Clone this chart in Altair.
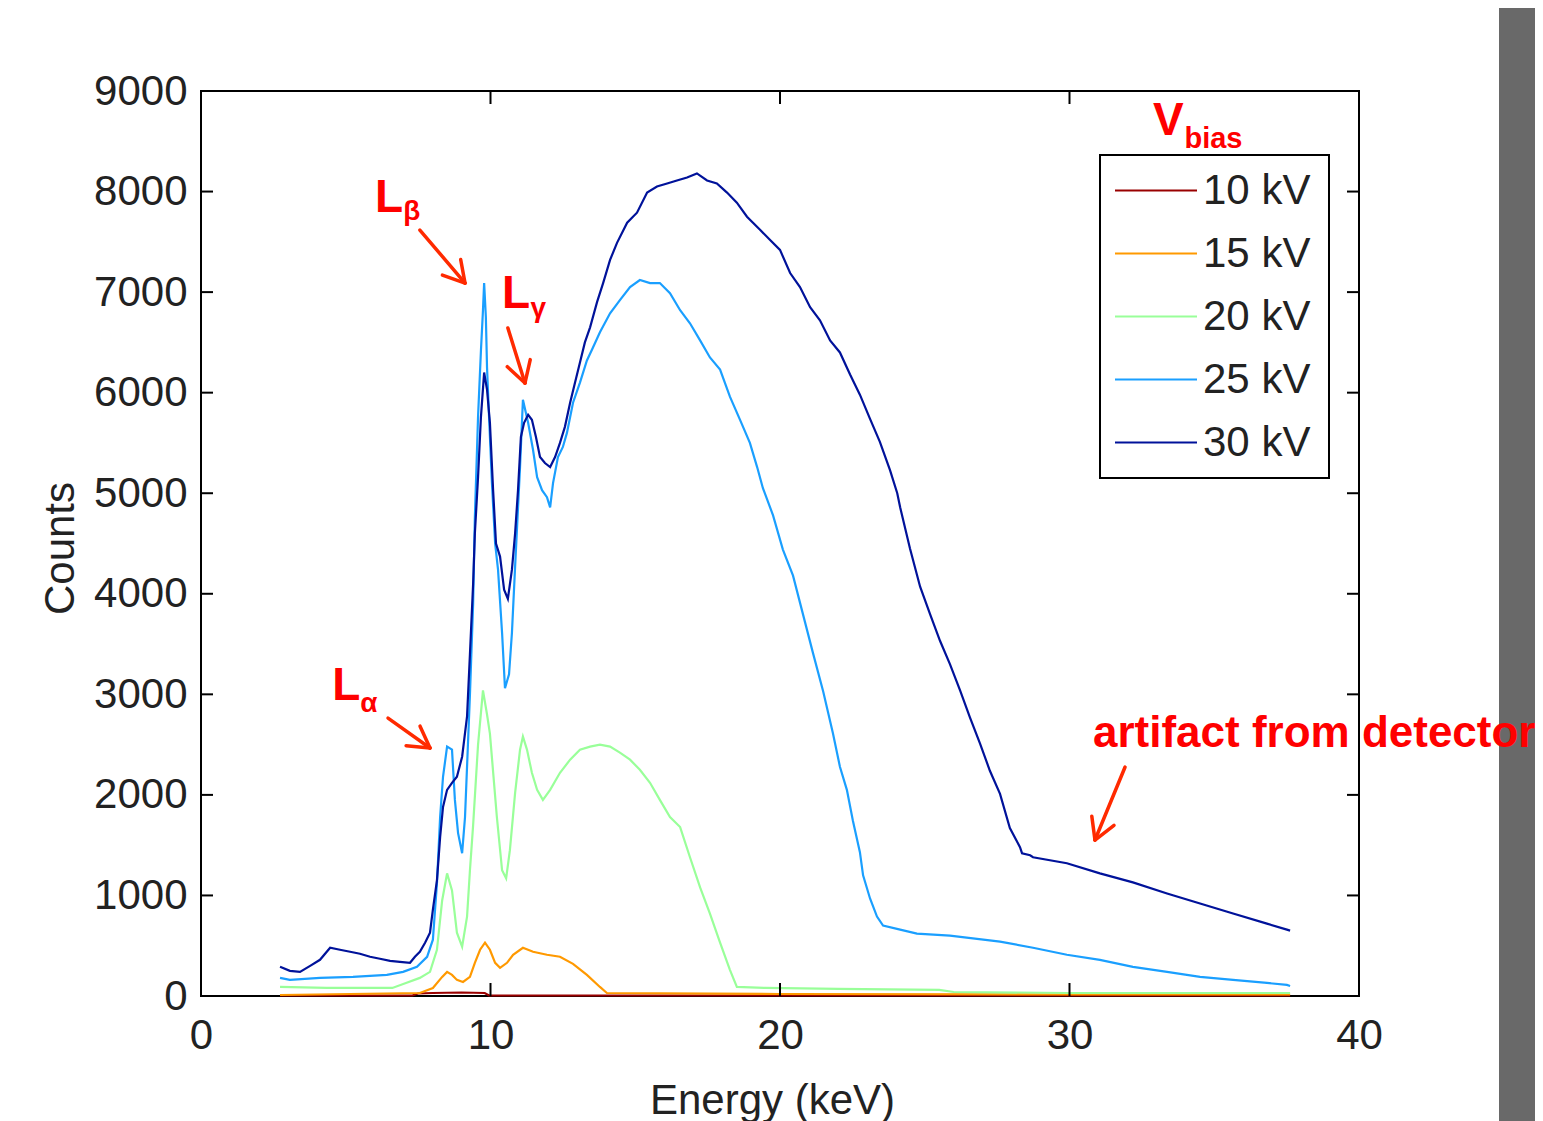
import math
import altair as alt
import pandas as pd

# ---------------- data ----------------
series_labels = ["10 kV", "15 kV", "20 kV", "25 kV", "30 kV"]
series_colors = ["#990000", "#ff9900", "#99ff99", "#1a9fff", "#00129a"]

e10 = [2.73, 7.30, 7.50, 8.00, 9.00, 9.80, 9.95, 37.62]
c10 = [5, 5, 25, 30, 35, 30, 5, 5]

e15 = [2.73, 7.56, 8.01, 8.33, 8.50, 8.67, 8.84, 9.05, 9.29, 9.46,
       9.64, 9.81, 9.98, 10.16, 10.33, 10.57, 10.78, 11.12, 11.47, 11.95,
       12.40, 12.85, 13.33, 13.78, 14.02, 20.00, 30.00, 37.62]
c15 = [10, 30, 80, 190, 240, 210, 160, 140, 190, 330,
       460, 530, 460, 330, 280, 330, 410, 480, 440, 410,
       390, 320, 210, 90, 30, 20, 15, 15]

e20 = [2.73, 4.34, 6.61, 7.08, 7.56, 7.91, 8.15, 8.33, 8.50, 8.67,
       8.84, 9.02, 9.19, 9.29, 9.40, 9.57, 9.74, 9.88, 9.98, 10.22,
       10.40, 10.54, 10.67, 10.85, 11.02, 11.12, 11.26, 11.43, 11.61, 11.81,
       12.06, 12.40, 12.75, 13.09, 13.44, 13.78, 14.13, 14.47, 14.82, 15.16,
       15.51, 15.85, 16.20, 16.55, 16.89, 17.24, 17.58, 17.93, 18.27, 18.51,
       19.50, 22.00, 25.50, 26.00, 30.00, 37.62]
c20 = [90, 80, 80, 130, 180, 240, 460, 950, 1220, 1050,
       630, 490, 790, 1250, 1700, 2500, 3040, 2800, 2610, 1780,
       1250, 1170, 1450, 2020, 2450, 2580, 2450, 2220, 2050, 1950,
       2050, 2220, 2350, 2450, 2480, 2500, 2480, 2420, 2350, 2250,
       2120, 1950, 1780, 1680, 1380, 1080, 820, 530, 260, 90,
       80, 70, 60, 40, 30, 30]

e25 = [2.73, 3.07, 4.11, 5.25, 6.42, 6.98, 7.46, 7.81, 8.01, 8.15,
       8.26, 8.36, 8.50, 8.67, 8.77, 8.88, 9.02, 9.12, 9.29, 9.40,
       9.46, 9.57, 9.67, 9.74, 9.78, 9.84, 9.88, 9.95, 10.05, 10.16,
       10.26, 10.40, 10.50, 10.64, 10.74, 10.85, 11.02, 11.12, 11.30, 11.47,
       11.61, 11.78, 11.95, 12.06, 12.16, 12.33, 12.50, 12.64, 12.85, 13.09,
       13.33, 13.54, 13.78, 14.13, 14.47, 14.82, 15.16, 15.51, 15.85, 16.20,
       16.55, 16.89, 17.24, 17.58, 17.93, 18.27, 18.62, 18.96, 19.21, 19.41,
       19.76, 20.10, 20.45, 20.79, 21.14, 21.49, 21.83, 22.07, 22.31, 22.52,
       22.76, 22.87, 23.11, 23.35, 23.56, 24.15, 24.73, 25.87, 27.60, 28.74,
       29.91, 31.05, 32.19, 33.37, 34.51, 35.65, 36.82, 37.51, 37.62]
c25 = [180, 160, 180, 190, 210, 240, 290, 390, 560, 1120,
       1780, 2180, 2480, 2450, 1950, 1620, 1420, 1780, 3000, 3900,
       4760, 5760, 6420, 6820, 7090, 6750, 6250, 5760, 5100, 4500,
       4240, 3610, 3060, 3200, 3610, 4270, 5260, 5930, 5700, 5430,
       5160, 5030, 4960, 4860, 5100, 5360, 5460, 5600, 5900, 6100,
       6320, 6450, 6600, 6790, 6920, 7050, 7120, 7090, 7090, 6990,
       6820, 6690, 6520, 6350, 6230, 5960, 5730, 5500, 5260, 5050,
       4780, 4440, 4180, 3800, 3410, 3030, 2610, 2280, 2050, 1740,
       1430, 1200, 970, 790, 700, 660, 620, 600, 540, 480,
       410, 360, 290, 240, 190, 160, 130, 110, 100]

e30 = [2.73, 3.07, 3.42, 3.77, 4.11, 4.46, 4.80, 5.15, 5.49, 5.84,
       6.18, 6.53, 6.87, 7.22, 7.39, 7.56, 7.74, 7.91, 8.01, 8.15,
       8.26, 8.36, 8.50, 8.67, 8.84, 9.02, 9.19, 9.29, 9.40, 9.46,
       9.57, 9.67, 9.78, 9.88, 9.98, 10.09, 10.19, 10.33, 10.47, 10.60,
       10.74, 10.85, 10.95, 11.05, 11.16, 11.30, 11.43, 11.57, 11.71, 11.88,
       12.06, 12.23, 12.40, 12.57, 12.75, 12.92, 13.09, 13.26, 13.44, 13.68,
       13.89, 14.13, 14.37, 14.72, 15.06, 15.41, 15.75, 16.10, 16.44, 16.79,
       17.13, 17.48, 17.82, 18.17, 18.51, 18.86, 19.31, 19.65, 20.00, 20.35,
       20.69, 21.04, 21.38, 21.73, 22.07, 22.42, 22.76, 23.11, 23.45, 23.80,
       24.05, 24.15, 24.49, 24.84, 25.18, 25.53, 25.87, 26.22, 26.56, 26.91,
       27.25, 27.60, 27.94, 28.29, 28.36, 28.64, 28.74, 29.91, 31.05, 32.19,
       33.37, 34.51, 35.65, 36.82, 37.51, 37.62]
c30 = [290, 250, 240, 300, 360, 480, 460, 440, 420, 390,
       370, 350, 340, 330, 390, 440, 530, 630, 860, 1150,
       1580, 1880, 2050, 2120, 2180, 2380, 2780, 3400, 4100, 4600,
       5160, 5760, 6200, 6030, 5700, 5030, 4500, 4370, 4040, 3950,
       4240, 4600, 5030, 5560, 5700, 5780, 5730, 5560, 5360, 5300,
       5260, 5360, 5500, 5660, 5900, 6100, 6300, 6500, 6650, 6900,
       7090, 7320, 7490, 7690, 7790, 7990, 8050, 8080, 8110, 8140,
       8180, 8110, 8080, 7990, 7890, 7750, 7620, 7520, 7420, 7190,
       7050, 6850, 6720, 6520, 6400, 6180, 5980, 5740, 5510, 5230,
       5000, 4860, 4450, 4070, 3800, 3530, 3300, 3040, 2770, 2510,
       2240, 2010, 1670, 1480, 1420, 1400, 1380, 1320, 1220, 1130,
       1020, 920, 820, 720, 660, 650]

x_ticks = [0, 10, 20, 30, 40]
y_ticks = [0, 1000, 2000, 3000, 4000, 5000, 6000, 7000, 8000, 9000]

# annotations (data coordinates)
big_text = ["L", "L", "L", "V"]
big_e = [6.01, 10.40, 4.53, 32.88]
big_c = [7796, 6841, 2943, 8562]
sub_text = ["β", "γ", "α"]
sub_e = [6.99, 11.38, 5.50]
sub_c = [7717, 6752, 2824]
bias_text = ["bias"]
bias_e = [33.97]
bias_c = [8433]
note_text = ["artifact from detector"]
note_e = [30.81]
note_c = [2476]
arrow_tail_e = [7.56, 10.60, 6.46, 31.92]
arrow_tail_c = [7617, 6643, 2764, 2277]
arrow_head_e = [9.12, 11.19, 7.91, 30.88]
arrow_head_c = [7090, 6096, 2466, 1551]

# ---------------- build tables ----------------
rows = []
for lab, es, cs in zip(series_labels, [e10, e15, e20, e25, e30], [c10, c15, c20, c25, c30]):
    for e, c in zip(es, cs):
        rows.append({"series": lab, "E": e, "C": c})
df = pd.DataFrame(rows)

W, H = 1158, 905
SX, SY = W / 40.0, H / 9000.0

seg = []
for te, tc, he, hc in zip(arrow_tail_e, arrow_tail_c, arrow_head_e, arrow_head_c):
    tx, ty = te * SX, -tc * SY
    hx, hy = he * SX, -hc * SY
    d = math.atan2(hy - ty, hx - tx)
    seg.append({"E": te, "C": tc, "E2": he, "C2": hc})
    for s in (1, -1):
        a = d + math.pi - s * math.radians(30)
        bx, by = hx + 24 * math.cos(a), hy + 24 * math.sin(a)
        seg.append({"E": he, "C": hc, "E2": bx / SX, "C2": -by / SY})
arrows_df = pd.DataFrame(seg)

FONT = "Liberation Sans"

x_axis = alt.Axis(values=x_ticks, title="Energy (keV)", labelFlush=False, format="d",
                  labelPadding=19, titleX=571, titleY=117, titleBaseline="alphabetic",
                  titleAlign="center")
y_axis = alt.Axis(values=y_ticks, title="Counts", labelFlush=False, format="d",
                  labelPadding=14, titleX=-128, titleY=457, titleAngle=270,
                  titleBaseline="alphabetic", titleAlign="center")
x_enc = alt.X("E:Q", scale=alt.Scale(domain=[0, 40], nice=False), axis=x_axis)
y_enc = alt.Y("C:Q", scale=alt.Scale(domain=[0, 9000], nice=False), axis=y_axis)

frame = alt.Chart(pd.DataFrame({"k": [0]})).mark_rect(color="#696969").encode(
    x=alt.value(1298), x2=alt.value(1340), y=alt.value(-90), y2=alt.value(1040)
)

lines = alt.Chart(df).mark_line(strokeWidth=2.2).encode(
    x=x_enc, y=y_enc,
    color=alt.Color(
        "series:N",
        sort=series_labels,
        scale=alt.Scale(domain=series_labels, range=series_colors),
        legend=alt.Legend(
            orient="none", legendX=899, legendY=64,
            title=".", titleColor="white", titleOrient="right",
            titleFontSize=8, titlePadding=12,
            symbolType="stroke", symbolSize=6724, symbolStrokeWidth=2,
            clipHeight=63, rowPadding=0, padding=4, symbolOffset=10,
            labelFontSize=42, labelFont=FONT, labelColor="#222222",
            labelOffset=5, labelLimit=500,
            strokeColor="black", fillColor="white",
        ),
    ),
)

xt = pd.DataFrame({"E": x_ticks})
yt = pd.DataFrame({"C": y_ticks})
tick_style = dict(color="black", strokeWidth=2)
xt_bottom = alt.Chart(xt).mark_rule(**tick_style).encode(x=x_enc, y=alt.value(H), y2=alt.value(H - 13))
xt_top = alt.Chart(xt).mark_rule(**tick_style).encode(x=x_enc, y=alt.value(0), y2=alt.value(13))
yt_left = alt.Chart(yt).mark_rule(**tick_style).encode(y=y_enc, x=alt.value(0), x2=alt.value(12))
yt_right = alt.Chart(yt).mark_rule(**tick_style).encode(y=y_enc, x=alt.value(W), x2=alt.value(W - 12))

def text_layer(texts, es, cs, size):
    d = pd.DataFrame({"E": es, "C": cs, "t": texts})
    return alt.Chart(d).mark_text(
        align="left", baseline="alphabetic", font=FONT, fontWeight="bold",
        fontSize=size, color="#ff0000"
    ).encode(x=x_enc, y=y_enc, text="t:N")

big = text_layer(big_text, big_e, big_c, 46)
sub = text_layer(sub_text, sub_e, sub_c, 28)
bias = text_layer(bias_text, bias_e, bias_c, 29)
note = text_layer(note_text, note_e, note_c, 44)

arrows = alt.Chart(arrows_df).mark_rule(color="#ff2a00", strokeWidth=3.5, strokeCap="round").encode(
    x=x_enc, y=y_enc, x2="E2:Q", y2="C2:Q"
)

chart = alt.layer(
    frame, lines, xt_bottom, xt_top, yt_left, yt_right, arrows, big, sub, bias, note
).properties(
    width=W, height=H,
    autosize=alt.AutoSizeParams(type="none"),
    padding={"left": 193, "top": 83, "right": 176, "bottom": 125},
    background="white",
).configure_view(
    stroke="black", strokeWidth=2
).configure_axis(
    labelFont=FONT, labelFontSize=42, labelColor="#222222",
    titleFont=FONT, titleFontSize=42, titleFontWeight="normal", titleColor="#222222",
    ticks=False, tickSize=0, domain=False, grid=False,
).configure_legend(
    strokeWidth=2
)

chart.save("out.html", embed_options={"renderer": "svg", "actions": False})
